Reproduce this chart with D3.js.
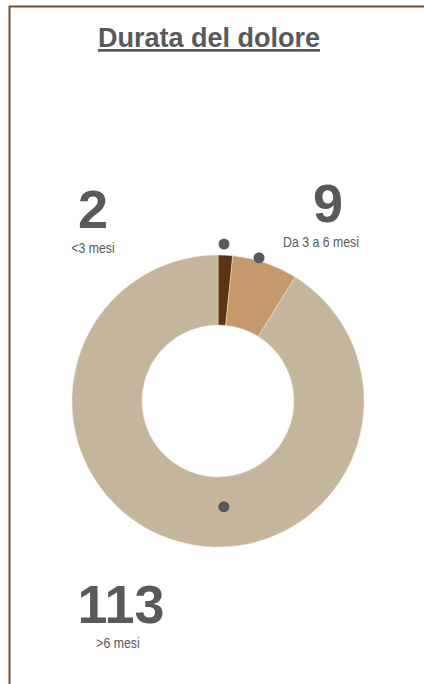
<!DOCTYPE html>
<html>
<head>
<meta charset="utf-8">
<script src="https://cdn.jsdelivr.net/npm/d3@7"></script>
<style>
  html, body { margin: 0; padding: 0; background: #fff; }
  svg { display: block; }
</style>
</head>
<body>
<div id="chart"></div>
<script>
// data
var categories = ['<3 mesi', 'Da 3 a 6 mesi', '>6 mesi'];
var values = [2, 9, 113];
var colors = ['#5b3513', '#c4996b', '#c4b59c'];

var width = 424;
var height = 684;
var cx = 218, cy = 401;
var outerR = 146, innerR = 76;
var ink = '#58595b';

// where each value label and its dot sit (layout only)
var labelPos = [
  { x: 93, y: 228, dx: 0 },
  { x: 328, y: 222, dx: -7 },
  { x: 121, y: 623, dx: -3 }
];
var dotPos = [
  { angle: 2.2, r: 157 },
  { angle: 16, r: 149 },
  { angle: 176.8, r: 106 }
];

var svg = d3.select('#chart')
  .append('svg')
    .attr('width', width)
    .attr('height', height);

// frame lines (top + left)
svg.append('path')
  .attr('d', 'M9.5,' + height + 'V6.5H' + width)
  .attr('fill', 'none')
  .attr('stroke', '#6f4f30')
  .attr('stroke-width', 2);

svg.append('text')
  .attr('x', 209)
  .attr('y', 47)
  .attr('text-anchor', 'middle')
  .style('font-family', '"Liberation Sans", Arial, sans-serif')
  .style('font-weight', 'bold')
  .style('font-size', '27px')
  .style('text-decoration', 'underline')
  .attr('fill', ink)
  .text('Durata del dolore');

var pie = d3.pie().sort(null).value(d => d);
var arc = d3.arc().innerRadius(innerR).outerRadius(outerR);

var g = svg.append('g')
  .attr('transform', 'translate(' + cx + ',' + cy + ')');

g.selectAll('path.slice')
  .data(pie(values)).enter()
  .append('path')
    .attr('class', 'slice')
    .attr('d', arc)
    .attr('fill', (d, i) => colors[i])
    .attr('stroke', '#ece6da')
    .attr('stroke-width', 0.5);

g.selectAll('circle.dot')
  .data(dotPos).enter()
  .append('circle')
    .attr('class', 'dot')
    .attr('cx', d => d.r * Math.sin(d.angle * Math.PI / 180))
    .attr('cy', d => -d.r * Math.cos(d.angle * Math.PI / 180))
    .attr('r', 5.5)
    .attr('fill', ink);

var labels = svg.selectAll('g.label')
  .data(values).enter()
  .append('g')
    .attr('class', 'label')
    .attr('transform', (d, i) => 'translate(' + labelPos[i].x + ',' + labelPos[i].y + ')');

labels.append('text')
  .attr('text-anchor', 'middle')
  .style('font-family', '"Liberation Sans", Arial, sans-serif')
  .style('font-weight', 'bold')
  .style('font-size', '54px')
  .attr('fill', ink)
  .text(d => d);

// narrow category text: squeeze horizontally
labels.append('text')
  .attr('transform', (d, i) => 'translate(' + labelPos[i].dx + ',25) scale(0.82,1)')
  .attr('text-anchor', 'middle')
  .style('font-family', '"Liberation Sans", Arial, sans-serif')
  .style('font-size', '15px')
  .attr('fill', ink)
  .text((d, i) => categories[i]);
</script>
</body>
</html>
